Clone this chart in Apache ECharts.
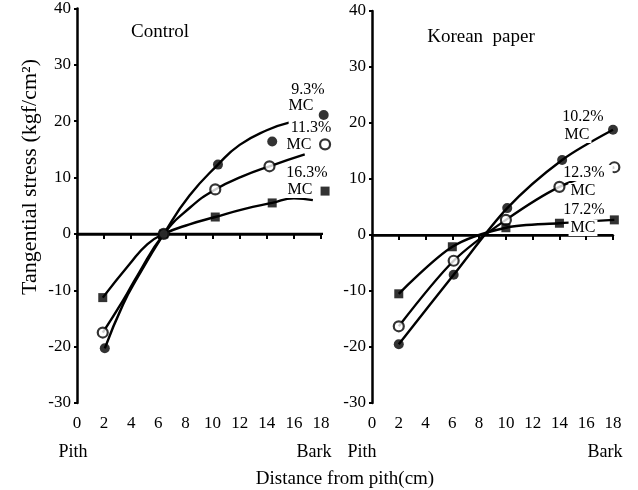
<!DOCTYPE html>
<html><head><meta charset="utf-8">
<script src="https://cdn.jsdelivr.net/npm/echarts@6/dist/echarts.min.js"></script>
<style>html,body{margin:0;padding:0;background:#fff}#c{width:638px;height:490px}</style>
</head><body><div id="c"></div>
<script>
// Control board: measured tangential stress (kgf/cm²) vs distance from pith (cm)
const ctrlMC93  = [[2.05,-20.3],[6.4,0],[10.4,12.3],[14.4,16.4],[18.2,21.1]];
const ctrlMC113 = [[1.9,-17.5],[6.4,0],[10.2,7.9],[14.2,12.0],[18.3,15.9]];
const ctrlMC163 = [[1.9,-11.3],[6.4,0],[10.2,3.0],[14.4,5.5],[18.3,7.6]];
// Control board: fitted stress curves
const ctrlFit93  = [[2.05,-20.3],[3.4,-12.5],[4.5,-7.6],[6.4,0],[8.3,6.8],[10.4,12.3],[12,15.8],[14,18.4],[15.7,19.8]];
const ctrlFit113 = [[1.9,-17.5],[3.4,-11.8],[4.5,-7.2],[6.4,0],[8.3,4.6],[10.2,7.9],[12.2,10.2],[14.2,12.0],[16.8,14.1]];
const ctrlFit163 = [[1.9,-11.3],[3.9,-5.3],[5.2,-1.8],[6.4,0],[8.3,1.7],[10.2,3.0],[12.3,4.4],[14.4,5.5],[16,6.3],[17.4,6.0]];
// Korean paper wrapped board: measured tangential stress
const korMC102 = [[2,-19.5],[6.1,-7.1],[10.1,4.8],[14.2,13.4],[18,18.8]];
const korMC123 = [[2,-16.3],[6.1,-4.6],[10,2.7],[14,8.6],[18.1,12.1]];
const korMC172 = [[2,-10.5],[6,-2.1],[10,1.3],[14,2.1],[18.1,2.7]];
// zero-stress reference lines
const zeroLineCtrl = [[0,0],[18.3,0]];
const zeroLineKor = [[0,0],[18,0]];

// curve labels: [text, x px, y px, right padding]
const curveLabels = [
  ['9.3%',308,90,2],['MC',301,106,2],['11.3%',311,128,2],['MC',299,145,2],['16.3%',307,173,2],['MC',300,190,2],
  ['10.2%',583,117,2],['MC',577,135,2],['12.3%',584,173,8],['MC',583,191,14],['17.2%',584,210,2],['MC',583,228,2]
];

const FONT = '"Liberation Serif","DejaVu Serif",serif';
const chart = echarts.init(document.getElementById('c'), null, {renderer:'canvas'});

function xAx(gi){
  return {gridIndex:gi,type:'value',min:0,max:18,interval:2,
    axisLine:{lineStyle:{color:'#000',width:2.5}},
    axisTick:{length:5,lineStyle:{color:'#000',width:2}},
    axisLabel:{color:'#000',fontFamily:FONT,fontSize:17,margin:12},
    splitLine:{show:false}};
}
function yAx(gi){
  return {gridIndex:gi,type:'value',min:-30,max:40,interval:10,
    axisLine:{show:true,lineStyle:{color:'#000',width:2.5}},
    axisTick:{show:true,length:3,lineStyle:{color:'#000',width:2}},
    axisLabel:{color:'#000',fontFamily:FONT,fontSize:17,margin:6},
    splitLine:{show:false}};
}
function fit(gi,data){
  return {type:'line',xAxisIndex:gi,yAxisIndex:gi,data:data,smooth:true,showSymbol:false,clip:false,
    lineStyle:{color:'#000',width:2.4},z:3,silent:true};
}
function link(gi,data){
  return {type:'line',xAxisIndex:gi,yAxisIndex:gi,data:data,smooth:0.3,showSymbol:false,clip:false,
    lineStyle:{color:'#000',width:2.4},z:3,silent:true};
}
function pts(gi,data,kind){
  const s = {type:'scatter',xAxisIndex:gi,yAxisIndex:gi,data:data,z:4,silent:true,clip:false};
  if(kind==='filled'){s.symbol='circle';s.symbolSize=10;s.itemStyle={color:'#000'};}
  else if(kind==='open'){s.symbol='circle';s.symbolSize=10;s.itemStyle={color:'#fff',borderColor:'#000',borderWidth:2.2};}
  else {s.symbol='rect';s.symbolSize=9;s.itemStyle={color:'#000'};}
  return s;
}
function zero(gi,data){
  return {type:'line',xAxisIndex:gi,yAxisIndex:gi,data:data,showSymbol:false,clip:false,
    lineStyle:{color:'#000',width:2.2},z:2,silent:true};
}

const textEls = [];
function txt(t,x,y,size,opt){
  textEls.push(Object.assign({type:'text',x:x,y:y,z:100,
    style:{text:t,fill:'#000',font:size+'px '+FONT,textAlign:'center',textVerticalAlign:'middle'}},opt||{}));
}
// curve labels sit on a white patch that hides the curve ends beneath them
curveLabels.forEach(l=>{
  textEls.push({type:'text',x:l[1]+(l[3]-2)/2,y:l[2],z:100,
    style:{text:l[0],fill:'#000',font:'16px '+FONT,textAlign:'center',textVerticalAlign:'middle',
      backgroundColor:'#fff',padding:[0,l[3],0,2]}});
});
txt('Control',160,32,19);
txt('Korean  paper',481,37,19);
txt('Pith',73,452,18);
txt('Bark',314,452,18);
txt('Pith',362,452,18);
txt('Bark',605,452,18);
txt('Distance from pith(cm)',345,479,19);
textEls.push({type:'text',x:30,y:177,z:100,rotation:Math.PI/2,
  style:{text:'Tangential stress (kgf/cm²)',fill:'#000',font:'22px '+FONT,textAlign:'center',textVerticalAlign:'middle'}});

chart.setOption({
  animation:false,
  backgroundColor:'#fff',
  grid:[{left:77,top:6,width:244,height:397},{left:372,top:11,width:241,height:392}],
  xAxis:[xAx(0),xAx(1)],
  yAxis:[yAx(0),yAx(1)],
  series:[
    zero(0,zeroLineCtrl),zero(1,zeroLineKor),
    fit(0,ctrlFit93),fit(0,ctrlFit113),fit(0,ctrlFit163),
    pts(0,ctrlMC93,'filled'),pts(0,ctrlMC113,'open'),pts(0,ctrlMC163,'square'),
    link(1,korMC102),link(1,korMC123),link(1,korMC172),
    pts(1,korMC102,'filled'),pts(1,korMC123,'open'),pts(1,korMC172,'square')
  ],
  graphic:textEls
});
</script></body></html>
